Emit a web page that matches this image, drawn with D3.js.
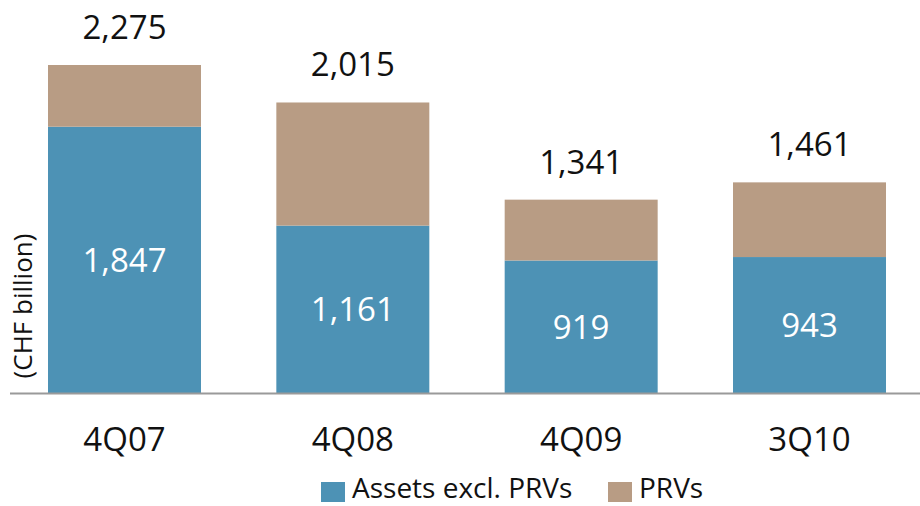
<!DOCTYPE html>
<html>
<head>
<meta charset="utf-8">
<script src="https://cdn.jsdelivr.net/npm/d3@7"></script>
<style>
  body { margin: 0; background: #fff; }
  text { font-family: "Open Sans", "Noto Sans", sans-serif; }
</style>
</head>
<body>
<script>
// chart data
var quarters = ["4Q07", "4Q08", "4Q09", "3Q10"];
var assetsExcl = [1847, 1161, 919, 943];
var totals = [2275, 2015, 1341, 1461];
var seriesNames = ["Assets excl. PRVs", "PRVs"];
var seriesColors = ["#4D92B5", "#B89C84"];

function init() {
    var w = 920;
    var h = 506;
    var baseY = 393;
    var labelSize = 33;

    var svg = d3.select("body").append("svg")
        .attr("width", w)
        .attr("height", h);

    var x = d3.scaleBand()
        .domain(quarters)
        .range([48, 886])
        .paddingInner(0.33)
        .paddingOuter(0);

    var y = d3.scaleLinear()
        .domain([0, 2275])
        .range([baseY, 65]);

    var rows = quarters.map(function (q, i) {
        return { q: q, assets: assetsExcl[i], prv: totals[i] - assetsExcl[i], total: totals[i] };
    });
    var stacked = d3.stack().keys(["assets", "prv"])(rows);

    // stacked bars
    svg.selectAll("g.series")
        .data(stacked)
        .enter().append("g")
        .attr("fill", function (d, i) { return seriesColors[i]; })
        .selectAll("rect")
        .data(function (d) { return d; })
        .enter().append("rect")
        .attr("x", function (d) { return x(d.data.q); })
        .attr("y", function (d) { return y(d[1]); })
        .attr("width", x.bandwidth())
        .attr("height", function (d) { return y(d[0]) - y(d[1]); });

    // baseline
    svg.append("line")
        .attr("x1", 10).attr("x2", w)
        .attr("y1", baseY + 0.5).attr("y2", baseY + 0.5)
        .attr("stroke", "#9a9a9a")
        .attr("stroke-width", 2);

    var fmt = d3.format(",");

    // values inside the blue segment
    svg.selectAll("text.inner")
        .data(rows)
        .enter().append("text")
        .attr("class", "inner")
        .attr("x", function (d) { return x(d.q) + x.bandwidth() / 2; })
        .attr("y", function (d) { return (y(d.assets) + y(0)) / 2; })
        .attr("dy", "0.36em")
        .attr("text-anchor", "middle")
        .attr("fill", "white")
        .attr("font-size", labelSize)
        .text(function (d) { return fmt(d.assets); });

    // totals above the bars
    svg.selectAll("text.total")
        .data(rows)
        .enter().append("text")
        .attr("class", "total")
        .attr("x", function (d) { return x(d.q) + x.bandwidth() / 2; })
        .attr("y", function (d) { return y(d.total) - 38; })
        .attr("dy", "0.36em")
        .attr("text-anchor", "middle")
        .attr("fill", "#111")
        .attr("font-size", labelSize)
        .text(function (d) { return fmt(d.total); });

    // category axis (labels only)
    var xAxis = svg.append("g")
        .attr("transform", "translate(0," + baseY + ")")
        .call(d3.axisBottom(x).tickSize(0).tickPadding(35));
    xAxis.select(".domain").remove();
    xAxis.selectAll("text")
        .attr("font-family", "'Open Sans', 'Noto Sans', sans-serif")
        .attr("font-size", labelSize)
        .attr("fill", "#111");

    // y label
    svg.append("text")
        .attr("transform", "translate(23,306) rotate(-90)")
        .attr("dy", "0.36em")
        .attr("text-anchor", "middle")
        .attr("font-size", 26)
        .attr("fill", "#111")
        .text("(CHF billion)");

    // legend
    var legendX = [321, 608];
    var legend = svg.selectAll("g.legend")
        .data(seriesNames)
        .enter().append("g")
        .attr("class", "legend")
        .attr("transform", function (d, i) { return "translate(" + legendX[i] + ",482)"; });
    legend.append("rect")
        .attr("width", 24)
        .attr("height", 20)
        .attr("fill", function (d, i) { return seriesColors[i]; });
    legend.append("text")
        .attr("x", 31)
        .attr("y", 16)
        .attr("font-size", 28)
        .attr("fill", "#111")
        .text(function (d) { return d; });
}
window.onload = init;
</script>
</body>
</html>
